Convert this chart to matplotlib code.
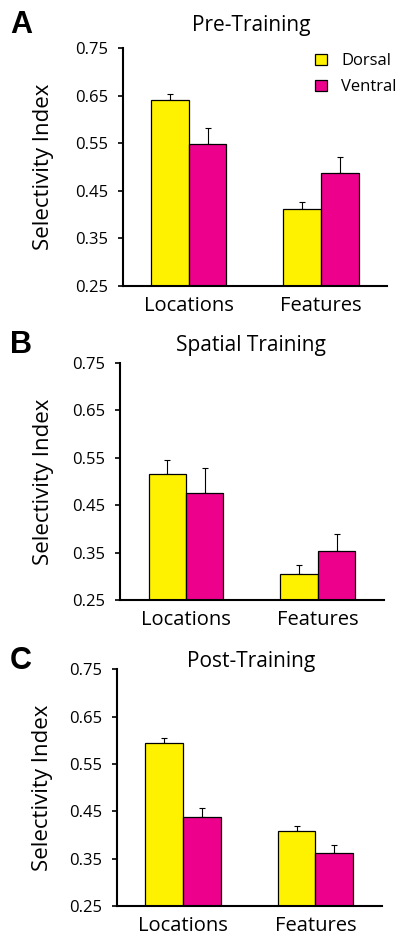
import matplotlib.pyplot as plt
from matplotlib.patches import Patch
import numpy as np

plt.rcParams['font.family'] = ['Open Sans', 'DejaVu Sans']

groups = ["Locations", "Features"]
titles = ["Pre-Training", "Spatial Training", "Post-Training"]
letters = ["A", "B", "C"]

dorsal = [[0.641, 0.412], [0.515, 0.304], [0.594, 0.408]]
dorsal_err = [[0.012, 0.014], [0.029, 0.020], [0.011, 0.010]]
ventral = [[0.548, 0.487], [0.475, 0.354], [0.437, 0.361]]
ventral_err = [[0.033, 0.034], [0.053, 0.035], [0.021, 0.017]]

yticks = [0.25, 0.35, 0.45, 0.55, 0.65, 0.75]

YELLOW = '#FFF200'
MAGENTA = '#EC008C'

fig = plt.figure(figsize=(3.99, 9.36), dpi=100)

boxes = [
    [0.308, 0.6944, 0.662, 0.2543],
    [0.301, 0.3590, 0.661, 0.2535],
    [0.2925, 0.0321, 0.664, 0.2528],
]
title_y = [0.9669, 0.6253, 0.2871]
letter_y = [0.9647, 0.6229, 0.2853]
ylabel_x = [0.135, 0.135, 0.132]

w = 0.284
x = np.arange(len(groups))

for i in range(3):
    ax = fig.add_axes(boxes[i])
    ax.bar(x - w / 2, dorsal[i], w, bottom=0, color=YELLOW, edgecolor='black',
           linewidth=0.9, zorder=2)
    ax.bar(x + w / 2, ventral[i], w, bottom=0, color=MAGENTA, edgecolor='black',
           linewidth=0.9, zorder=2)
    ax.errorbar(x - w / 2, dorsal[i], yerr=[np.zeros(2), dorsal_err[i]], fmt='none',
                ecolor='black', elinewidth=0.8, capsize=2.2, capthick=0.8, zorder=1)
    ax.errorbar(x + w / 2, ventral[i], yerr=[np.zeros(2), ventral_err[i]], fmt='none',
                ecolor='black', elinewidth=0.8, capsize=2.2, capthick=0.8, zorder=1)

    ax.set_ylim(0.25, 0.75)
    ax.set_xlim(-0.5, 1.5)
    ax.set_yticks(yticks)
    ax.set_yticklabels(["%.2f" % t for t in yticks])
    ax.set_xticks(x)
    ax.set_xticklabels(groups, fontsize=14.5)
    ax.tick_params(axis='y', labelsize=12, length=3.5, width=1.2, pad=7)
    ax.tick_params(axis='x', length=0, pad=7)
    for s in ['top', 'right']:
        ax.spines[s].set_visible(False)
    for s in ['left', 'bottom']:
        ax.spines[s].set_linewidth(1.5)
    ax.set_ylabel("Selectivity Index", fontsize=16)
    ax.yaxis.set_label_coords((ylabel_x[i] - boxes[i][0]) / boxes[i][2], 0.5)

    fig.text(0.630, title_y[i], titles[i], fontsize=15, ha='center', va='baseline')
    fig.text(0.025, letter_y[i], letters[i], fontsize=22, fontweight='bold',
             family='Liberation Sans', va='baseline')

    if i == 0:
        handles = [Patch(facecolor=YELLOW, edgecolor='black', linewidth=0.9),
                   Patch(facecolor=MAGENTA, edgecolor='black', linewidth=0.9)]
        fig.legend(handles, ["Dorsal", "Ventral"], loc='upper left', frameon=False,
                   fontsize=12, handlelength=0.7, handleheight=0.7, handletextpad=0.85,
                   labelspacing=0.6, borderpad=0, borderaxespad=0,
                   bbox_to_anchor=(0.79, 0.943))

fig.savefig('out.png', dpi=100)
